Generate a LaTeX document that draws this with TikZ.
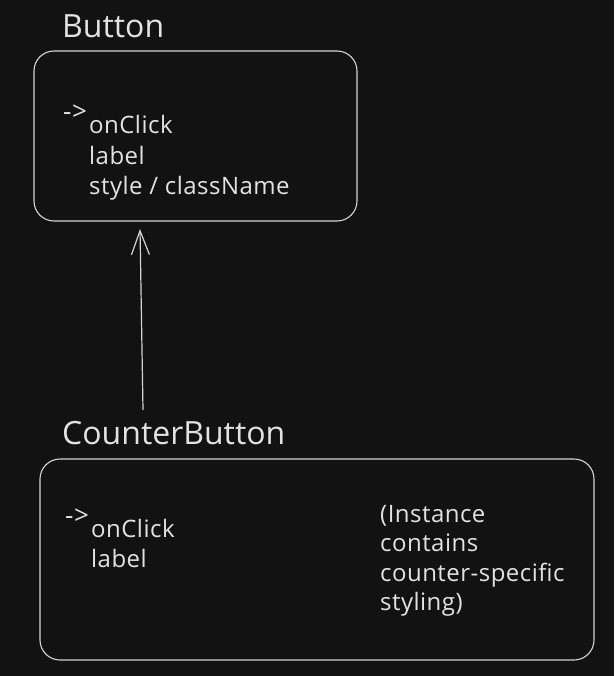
\documentclass[tikz,border=0pt]{standalone}
\usepackage{fontspec}
\setmainfont{Open Sans}
\newfontfamily\titlefont{Open Sans}
\newfontfamily\bodyfont[LetterSpace=2]{Open Sans}
\usetikzlibrary{arrows.meta}
\definecolor{bg}{HTML}{121212}
\definecolor{ink}{HTML}{E2E2E2}
\definecolor{stroke}{HTML}{D4D4D4}
\tikzset{
  boxstyle/.style={draw=stroke, line width=1.1pt, rounded corners=20pt},
  titletext/.style={anchor=base west, inner sep=0pt, text=ink, font=\titlefont\fontsize{32}{38}\selectfont},
  bodytext/.style={anchor=base west, inner sep=0pt, text=ink, font=\bodyfont\fontsize{24}{30}\selectfont},
  arrowtext/.style={anchor=base west, inner sep=0pt, text=ink, font=\bodyfont\fontsize{26}{30}\selectfont},
  linkstyle/.style={draw=stroke, line width=1.2pt, -{Straight Barb[length=24pt,width=18pt,line width=1.2pt]}}
}
\begin{document}
\begin{tikzpicture}[x=1pt,y=-1pt]
\fill[bg] (0,0) rectangle (614,676);
\useasboundingbox (0,0) rectangle (614,676);
% Button
\node[titletext] (btitle) at (62,38) {Button};
\draw[boxstyle] (34,51) rectangle (357,221);
\node[arrowtext] (barrow) at (63,121) {->};
\node[bodytext] (bonclick) at (89,134) {onClick};
\node[bodytext] (blabel) at (89,165) {label};
\node[bodytext] (bstyle) at (89,195) {style / className};
% CounterButton
\node[titletext] (ctitle) at (62,444) {CounterButton};
\draw[boxstyle] (40,459) rectangle (594,660);
\node[arrowtext] (carrow) at (65,524) {->};
\node[bodytext] (conclick) at (91,537) {onClick};
\node[bodytext] (clabel) at (91,567) {label};
\node[bodytext] (n1) at (380,522) {(Instance};
\node[bodytext] (n2) at (380,551) {contains};
\node[bodytext] (n3) at (380,581) {counter-specific};
\node[bodytext] (n4) at (380,610) {styling)};
% inheritance arrow
\coordinate (atail) at (143,410);
\coordinate (ahead) at (140,229);
\draw[linkstyle] (atail) -- (ahead);
\end{tikzpicture}
\end{document}
